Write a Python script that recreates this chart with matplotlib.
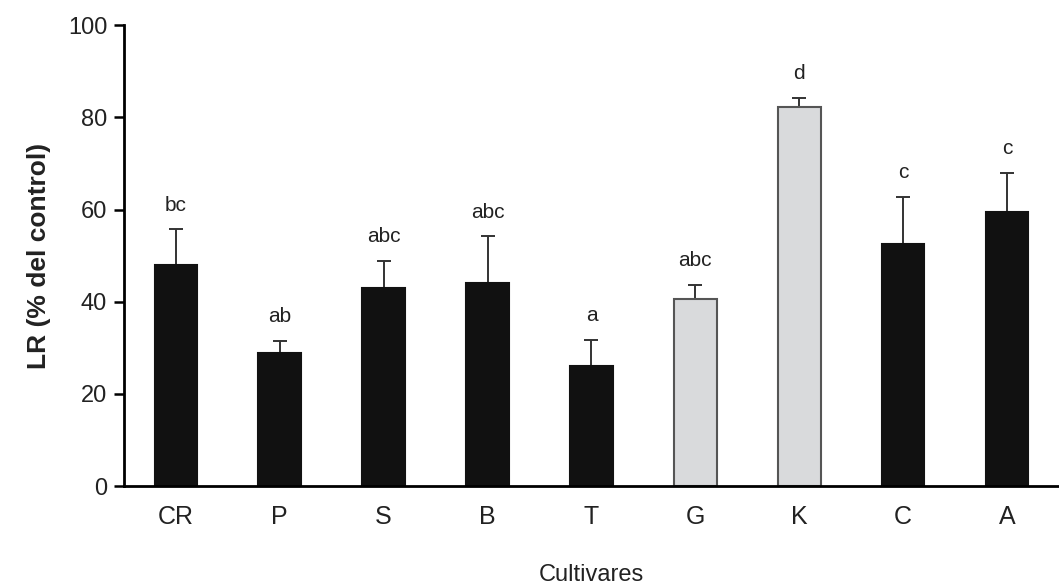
import numpy as np
import matplotlib
matplotlib.use('Agg')
import matplotlib.pyplot as plt

plt.rcParams['font.family'] = ['Liberation Sans', 'DejaVu Sans']

cultivares = ['CR', 'P', 'S', 'B', 'T', 'G', 'K', 'C', 'A']
lr = [47.9, 28.9, 42.9, 44.0, 26.0, 40.6, 82.2, 52.5, 59.4]
err = [7.8, 2.6, 5.9, 10.2, 5.7, 3.0, 2.0, 10.2, 8.5]
letras = ['bc', 'ab', 'abc', 'abc', 'a', 'abc', 'd', 'c', 'c']
claro = [False, False, False, False, False, True, True, False, False]

fig = plt.figure(figsize=(10.59, 5.87), dpi=100)
ax = fig.add_axes([0.117, 0.172, 0.883, 0.785])

x = np.arange(len(cultivares))
colores = ['#d9dadc' if c else '#111111' for c in claro]
bordes = ['#555555' if c else '#111111' for c in claro]
ax.bar(x, lr, width=0.41, color=colores, edgecolor=bordes, linewidth=1.5, zorder=2)
ax.errorbar(x, lr, yerr=[np.zeros(len(x)), err], fmt='none', ecolor='#333333',
            elinewidth=1.4, capsize=5, capthick=1.4, zorder=1)

# letras de significancia
for xi, v, e, t in zip(x, lr, err, letras):
    ax.text(xi, v + e + 3.2, t, ha='center', va='bottom', fontsize=15, color='#222222')

ax.set_xlim(-0.5, 8.5)
ax.set_ylim(0, 100)
ax.set_yticks([0, 20, 40, 60, 80, 100])
ax.set_xticks(x)
ax.set_xticklabels(cultivares, fontsize=18, color='#222222')
ax.tick_params(axis='y', labelsize=17, length=7, width=1.8, direction='out', pad=5,
               labelcolor='#222222')
ax.tick_params(axis='x', length=0, pad=14)
for s in ['top', 'right']:
    ax.spines[s].set_visible(False)
ax.spines['left'].set_linewidth(2)
ax.spines['bottom'].set_linewidth(2)

ax.set_ylabel('LR (% del control)', fontsize=19, fontweight='bold', labelpad=12,
              color='#222222')
ax.set_xlabel('Cultivares', fontsize=17, labelpad=25, color='#222222')

fig.savefig('out.png', dpi=100)
